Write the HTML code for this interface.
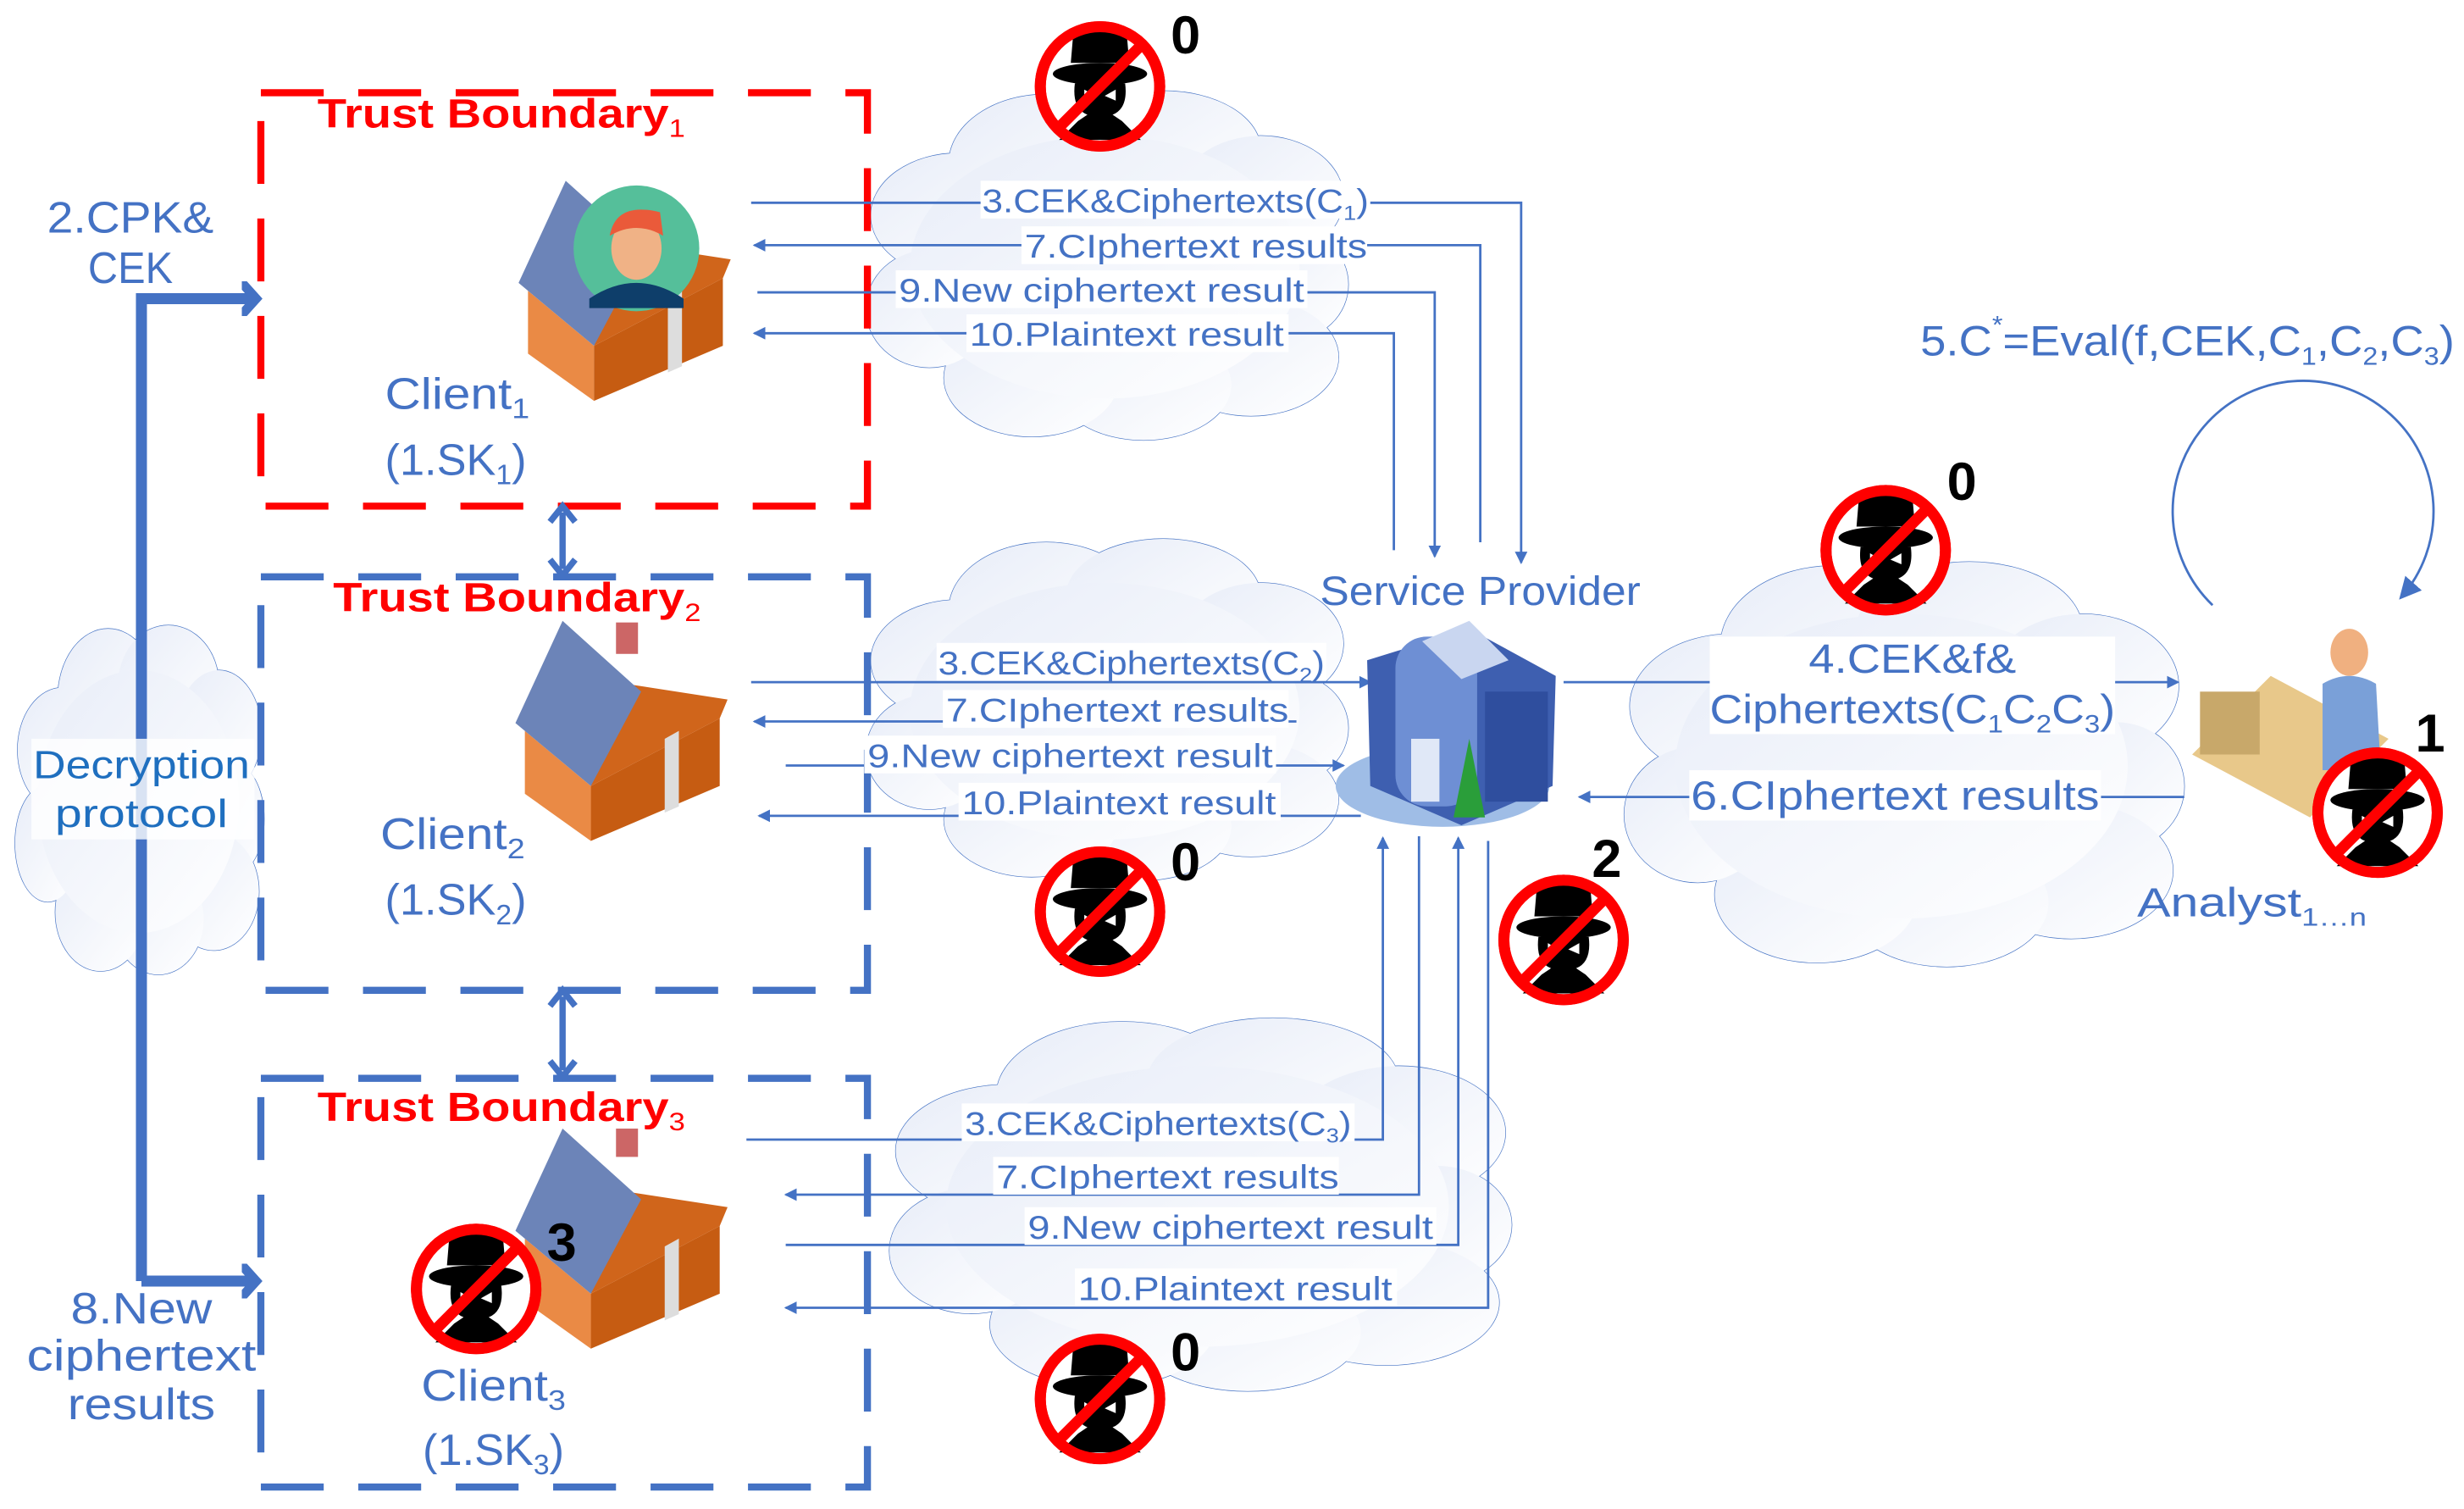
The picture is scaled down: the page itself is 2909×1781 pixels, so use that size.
<!DOCTYPE html>
<html><head><meta charset="utf-8"><style>
html,body{margin:0;padding:0;background:#fff}
svg{display:block}
text{font-family:"Liberation Sans",sans-serif}
</style></head><body>
<svg width="2909" height="1781" viewBox="0 0 1568 960" preserveAspectRatio="none" xmlns="http://www.w3.org/2000/svg">
<defs>
<linearGradient id="cg" x1="0" y1="0" x2="1" y2="1"><stop offset="0" stop-color="#e8edf8"/><stop offset="1" stop-color="#ffffff"/></linearGradient>
<g id="cloudS" fill="none" stroke="#4472c4" stroke-width="1.3">
<ellipse vector-effect="non-scaling-stroke" cx="20" cy="35" rx="18" ry="18"/><ellipse vector-effect="non-scaling-stroke" cx="38" cy="20" rx="20" ry="20"/><ellipse vector-effect="non-scaling-stroke" cx="62" cy="16" rx="20" ry="17"/><ellipse vector-effect="non-scaling-stroke" cx="82" cy="30" rx="17" ry="18"/><ellipse vector-effect="non-scaling-stroke" cx="88" cy="55" rx="12" ry="16"/><ellipse vector-effect="non-scaling-stroke" cx="80" cy="76" rx="18" ry="17"/><ellipse vector-effect="non-scaling-stroke" cx="58" cy="84" rx="18" ry="16"/><ellipse vector-effect="non-scaling-stroke" cx="35" cy="82" rx="18" ry="17"/><ellipse vector-effect="non-scaling-stroke" cx="14" cy="62" rx="13" ry="17"/>
</g>
<g id="cloudF" fill="url(#cg)">
<ellipse cx="20" cy="35" rx="18" ry="18"/><ellipse cx="38" cy="20" rx="20" ry="20"/><ellipse cx="62" cy="16" rx="20" ry="17"/><ellipse cx="82" cy="30" rx="17" ry="18"/><ellipse cx="88" cy="55" rx="12" ry="16"/><ellipse cx="80" cy="76" rx="18" ry="17"/><ellipse cx="58" cy="84" rx="18" ry="16"/><ellipse cx="35" cy="82" rx="18" ry="17"/><ellipse cx="14" cy="62" rx="13" ry="17"/><ellipse cx="50" cy="50" rx="40" ry="38"/>
</g>
<g id="spy">
<circle r="38" fill="#fff" stroke="#f00" stroke-width="7"/>
<path d="M-17,-34 Q0,-40 17,-34 L19,-10 L-19,-10 Z" fill="#000"/>
<rect x="-19" y="-15" width="38" height="5" fill="#fff"/>
<ellipse cx="0" cy="-8" rx="30" ry="7" fill="#000"/>
<path d="M-16,-2 Q-18,14 -8,18 L-14,22 L-26,34 L26,34 L14,22 L8,18 Q18,14 16,-2 Z" fill="#000"/>
<path d="M-10,2 L-3,6 L-10,9 Z M10,2 L3,6 L10,9 Z" fill="#fff"/>
<circle r="38" fill="none" stroke="#f00" stroke-width="7"/>
<line x1="27" y1="-27" x2="-27" y2="27" stroke="#f00" stroke-width="7"/>
</g>
<g id="house">
<polygon points="6,70 48,105 48,140 6,110" fill="#ea8a45"/>
<polygon points="48,105 130,62 130,105 48,140" fill="#c65c12"/>
<polygon points="70,40 135,50 130,62 48,105" fill="#d0651b"/>
<polygon points="0,65 30,0 80,45 48,105" fill="#6c84b8"/>
<polygon points="95,75 104,70 104,118 95,122" fill="#ddd"/>
</g>
<marker id="ar" markerWidth="8" markerHeight="8" refX="7" refY="4" orient="auto" markerUnits="userSpaceOnUse"><path d="M0,0 L8,4 L0,8 Z" fill="#4472c4"/></marker>
<marker id="arB" markerWidth="16" markerHeight="22" refX="8" refY="11" orient="auto" markerUnits="userSpaceOnUse"><path d="M0,1 L9,11 L0,21" fill="none" stroke="#4472c4" stroke-width="6" stroke-linecap="round"/></marker>
<marker id="arM" markerWidth="14" markerHeight="14" refX="12" refY="7" orient="auto" markerUnits="userSpaceOnUse"><path d="M0,0 L14,7 L0,14 Z" fill="#4472c4"/></marker>
</defs>

<!-- clouds -->
<g transform="translate(548,60) scale(3.1,2.2)"><use href="#cloudS"/><use href="#cloudF"/></g>
<g transform="translate(548,345) scale(3.1,2.15)"><use href="#cloudS"/><use href="#cloudF"/></g>
<g transform="translate(562,650) scale(4.0,2.35)"><use href="#cloudS"/><use href="#cloudF"/></g>
<g transform="translate(1030,360) scale(3.6,2.55)"><use href="#cloudS"/><use href="#cloudF"/></g>
<g transform="translate(8,400) scale(1.6,2.2)"><use href="#cloudS"/><use href="#cloudF"/></g>

<!-- trust boundaries -->
<rect x="166" y="59" width="386" height="263" fill="none" stroke="#f00" stroke-width="4.5" stroke-dasharray="40,22"/>
<rect x="166" y="367" width="386" height="263" fill="none" stroke="#4472c4" stroke-width="4.5" stroke-dasharray="40,22"/>
<rect x="166" y="686" width="386" height="260" fill="none" stroke="#4472c4" stroke-width="4.5" stroke-dasharray="40,22"/>
<text x="202" y="81" font-size="26" font-weight="bold" fill="#f00" textLength="234" lengthAdjust="spacingAndGlyphs">Trust Boundary<tspan font-size="16" font-weight="normal" dy="6">1</tspan></text>
<text x="212" y="389" font-size="26" font-weight="bold" fill="#f00" textLength="234" lengthAdjust="spacingAndGlyphs">Trust Boundary<tspan font-size="16" font-weight="normal" dy="6">2</tspan></text>
<text x="202" y="713" font-size="26" font-weight="bold" fill="#f00" textLength="234" lengthAdjust="spacingAndGlyphs">Trust Boundary<tspan font-size="16" font-weight="normal" dy="6">3</tspan></text>

<!-- left thick arrows -->
<path d="M90,815 L90,190 L162,190" fill="none" stroke="#4472c4" stroke-width="7" marker-end="url(#arB)"/>
<path d="M90,815 L162,815" fill="none" stroke="#4472c4" stroke-width="7" marker-end="url(#arB)"/>
<line x1="358" y1="326" x2="358" y2="362" stroke="#4472c4" stroke-width="4"/>
<path d="M350,332 L358,322 L366,332 M350,356 L358,366 L366,356" fill="none" stroke="#4472c4" stroke-width="4"/>
<line x1="358" y1="634" x2="358" y2="681" stroke="#4472c4" stroke-width="4"/>
<path d="M350,640 L358,630 L366,640 M350,675 L358,685 L366,675" fill="none" stroke="#4472c4" stroke-width="4"/>

<g fill="#4472c4" font-size="28">
<text x="83" y="148" text-anchor="middle" textLength="106" lengthAdjust="spacingAndGlyphs">2.CPK&amp;</text>
<text x="83" y="180" text-anchor="middle" textLength="54" lengthAdjust="spacingAndGlyphs">CEK</text>
<rect x="20" y="470" width="142" height="64" fill="#fff" opacity="0.8"/>
<text x="90" y="495" text-anchor="middle" font-size="25" textLength="138" lengthAdjust="spacingAndGlyphs" fill="#1f6fbf">Decryption</text>
<text x="90" y="526" text-anchor="middle" font-size="25" textLength="110" lengthAdjust="spacingAndGlyphs" fill="#1f6fbf">protocol</text>
<text x="90" y="842" text-anchor="middle" textLength="90" lengthAdjust="spacingAndGlyphs">8.New</text>
<text x="90" y="872" text-anchor="middle" textLength="146" lengthAdjust="spacingAndGlyphs">ciphertext</text>
<text x="90" y="903" text-anchor="middle" textLength="94" lengthAdjust="spacingAndGlyphs">results</text>
<text x="245" y="260" textLength="92" lengthAdjust="spacingAndGlyphs">Client<tspan font-size="18" dy="6">1</tspan></text>
<text x="245" y="302" textLength="90" lengthAdjust="spacingAndGlyphs">(1.SK<tspan font-size="18" dy="6">1</tspan><tspan dy="-6">)</tspan></text>
<text x="242" y="540" textLength="92" lengthAdjust="spacingAndGlyphs">Client<tspan font-size="18" dy="6">2</tspan></text>
<text x="245" y="582" textLength="90" lengthAdjust="spacingAndGlyphs">(1.SK<tspan font-size="18" dy="6">2</tspan><tspan dy="-6">)</tspan></text>
<text x="268" y="891" textLength="92" lengthAdjust="spacingAndGlyphs">Client<tspan font-size="18" dy="6">3</tspan></text>
<text x="269" y="932" textLength="90" lengthAdjust="spacingAndGlyphs">(1.SK<tspan font-size="18" dy="6">3</tspan><tspan dy="-6">)</tspan></text>
</g>

<!-- houses -->
<g transform="translate(330,115)"><use href="#house"/></g>
<circle cx="405" cy="158" r="40" fill="#55bf9a"/>
<path d="M375,190 Q405,170 435,190 L435,196 L375,196 Z" fill="#0e3e6a"/>
<ellipse cx="405" cy="158" rx="16" ry="20" fill="#f0b286"/>
<path d="M388,150 Q392,128 420,135 L422,150 Q405,140 388,150 Z" fill="#ea5a3a"/>
<g transform="translate(328,395)"><use href="#house"/></g>
<rect x="392" y="396" width="14" height="20" fill="#c66" />
<g transform="translate(328,718)"><use href="#house"/></g>
<rect x="392" y="718" width="14" height="18" fill="#c66" />

<!-- connectors -->
<g stroke="#4472c4" stroke-width="1.5" fill="none">
<path d="M478,129 L968,129 L968,358" marker-end="url(#ar)"/>
<path d="M942,345 L942,156 L480,156" marker-end="url(#ar)"/>
<path d="M482,186 L913,186 L913,354" marker-end="url(#ar)"/>
<path d="M887,350 L887,212 L480,212" marker-end="url(#ar)"/>
<path d="M478,434 L872,434" marker-end="url(#ar)"/>
<path d="M825,459 L480,459" marker-end="url(#ar)"/>
<path d="M500,487 L855,487" marker-end="url(#ar)"/>
<path d="M866,519 L483,519" marker-end="url(#ar)"/>
<path d="M475,725 L880,725 L880,533" marker-end="url(#ar)"/>
<path d="M903,532 L903,760 L500,760" marker-end="url(#ar)"/>
<path d="M500,792 L928,792 L928,533" marker-end="url(#ar)"/>
<path d="M947,535 L947,832 L500,832" marker-end="url(#ar)"/>
<path d="M995,434 L1386,434" marker-end="url(#ar)"/>
<path d="M1390,507 L1005,507" marker-end="url(#ar)"/>
<path d="M1408,385 A83,83 0 1 1 1528,380" marker-end="url(#arM)"/>
</g>

<g fill="#4472c4" font-size="21">
<rect x="624" y="115" width="248" height="24" fill="#fff"/><text x="625" y="135" textLength="246" lengthAdjust="spacingAndGlyphs">3.CEK&amp;Ciphertexts(C<tspan font-size="13" dy="5">1</tspan><tspan dy="-5">)</tspan></text>
<rect x="650" y="144" width="220" height="24" fill="#fff"/><text x="652" y="164" textLength="218" lengthAdjust="spacingAndGlyphs">7.CIphertext results</text>
<rect x="570" y="172" width="262" height="24" fill="#fff"/><text x="572" y="192" textLength="258" lengthAdjust="spacingAndGlyphs">9.New ciphertext result</text>
<rect x="615" y="200" width="205" height="24" fill="#fff"/><text x="617" y="220" textLength="200" lengthAdjust="spacingAndGlyphs">10.Plaintext result</text>

<rect x="596" y="409" width="248" height="24" fill="#fff"/><text x="597" y="429" textLength="246" lengthAdjust="spacingAndGlyphs">3.CEK&amp;Ciphertexts(C<tspan font-size="13" dy="5">2</tspan><tspan dy="-5">)</tspan></text>
<rect x="600" y="439" width="220" height="24" fill="#fff"/><text x="602" y="459" textLength="218" lengthAdjust="spacingAndGlyphs">7.CIphertext results</text>
<rect x="550" y="468" width="262" height="24" fill="#fff"/><text x="552" y="488" textLength="258" lengthAdjust="spacingAndGlyphs">9.New ciphertext result</text>
<rect x="610" y="498" width="205" height="24" fill="#fff"/><text x="612" y="518" textLength="200" lengthAdjust="spacingAndGlyphs">10.Plaintext result</text>

<rect x="612" y="702" width="250" height="24" fill="#fff"/><text x="614" y="722" textLength="246" lengthAdjust="spacingAndGlyphs">3.CEK&amp;Ciphertexts(C<tspan font-size="13" dy="5">3</tspan><tspan dy="-5">)</tspan></text>
<rect x="632" y="736" width="220" height="24" fill="#fff"/><text x="634" y="756" textLength="218" lengthAdjust="spacingAndGlyphs">7.CIphertext results</text>
<rect x="652" y="768" width="262" height="24" fill="#fff"/><text x="654" y="788" textLength="258" lengthAdjust="spacingAndGlyphs">9.New ciphertext result</text>
<rect x="684" y="807" width="205" height="24" fill="#fff"/><text x="686" y="827" textLength="200" lengthAdjust="spacingAndGlyphs">10.Plaintext result</text>
</g>

<g fill="#4472c4" font-size="26">
<text x="840" y="385" textLength="204" lengthAdjust="spacingAndGlyphs">Service Provider</text>
<rect x="1088" y="405" width="258" height="62" fill="#fff"/>
<text x="1217" y="428" text-anchor="middle" textLength="132" lengthAdjust="spacingAndGlyphs">4.CEK&amp;f&amp;</text>
<text x="1088" y="460" textLength="258" lengthAdjust="spacingAndGlyphs">Ciphertexts(C<tspan font-size="16" dy="6">1</tspan><tspan dy="-6">C</tspan><tspan font-size="16" dy="6">2</tspan><tspan dy="-6">C</tspan><tspan font-size="16" dy="6">3</tspan><tspan dy="-6">)</tspan></text>
<rect x="1075" y="490" width="262" height="32" fill="#fff"/>
<text x="1076" y="515" textLength="260" lengthAdjust="spacingAndGlyphs">6.CIphertext results</text>
<text x="1360" y="583" textLength="146" lengthAdjust="spacingAndGlyphs">Analyst<tspan font-size="16" dy="6">1…n</tspan></text>
<text x="1222" y="226" font-size="27" textLength="340" lengthAdjust="spacingAndGlyphs">5.C<tspan font-size="16" dy="-14">*</tspan><tspan dy="14">=Eval(f,CEK,C</tspan><tspan font-size="16" dy="6">1</tspan><tspan dy="-6">,C</tspan><tspan font-size="16" dy="6">2</tspan><tspan dy="-6">,C</tspan><tspan font-size="16" dy="6">3</tspan><tspan dy="-6">)</tspan></text>
</g>

<!-- building -->
<ellipse cx="918" cy="500" rx="68" ry="26" fill="#9fbde6"/>
<polygon points="870,420 935,400 990,430 988,500 930,525 872,500" fill="#3e5fb0"/>
<rect x="888" y="405" width="52" height="108" rx="20" fill="#6e8fd4"/>
<rect x="945" y="440" width="40" height="70" fill="#2f4e9e"/>
<polygon points="905,408 935,395 960,420 930,432" fill="#c9d6f0"/>
<rect x="898" y="470" width="18" height="40" fill="#e0e8f7"/>
<polygon points="925,520 935,470 945,520" fill="#2a9e3a"/>
<!-- analyst -->
<polygon points="1395,480 1445,430 1520,470 1470,520" fill="#e8c88a"/>
<rect x="1400" y="440" width="38" height="40" fill="#c8a86a"/>
<ellipse cx="1495" cy="415" rx="12" ry="15" fill="#f0b080"/>
<path d="M1478,435 Q1495,425 1512,435 L1515,490 L1478,490 Z" fill="#7aa0d8"/>

<!-- spies -->
<use href="#spy" transform="translate(700,55)"/>
<use href="#spy" transform="translate(1200,350)"/>
<use href="#spy" transform="translate(700,580)"/>
<use href="#spy" transform="translate(995,598)"/>
<use href="#spy" transform="translate(1513,517)"/>
<use href="#spy" transform="translate(303,820)"/>
<use href="#spy" transform="translate(700,890)"/>
<g font-size="34" font-weight="bold" fill="#000">
<text x="745" y="34">0</text>
<text x="1239" y="318">0</text>
<text x="745" y="560">0</text>
<text x="1013" y="558">2</text>
<text x="1537" y="478">1</text>
<text x="348" y="802">3</text>
<text x="745" y="872">0</text>
</g>
</svg>
</body></html>
